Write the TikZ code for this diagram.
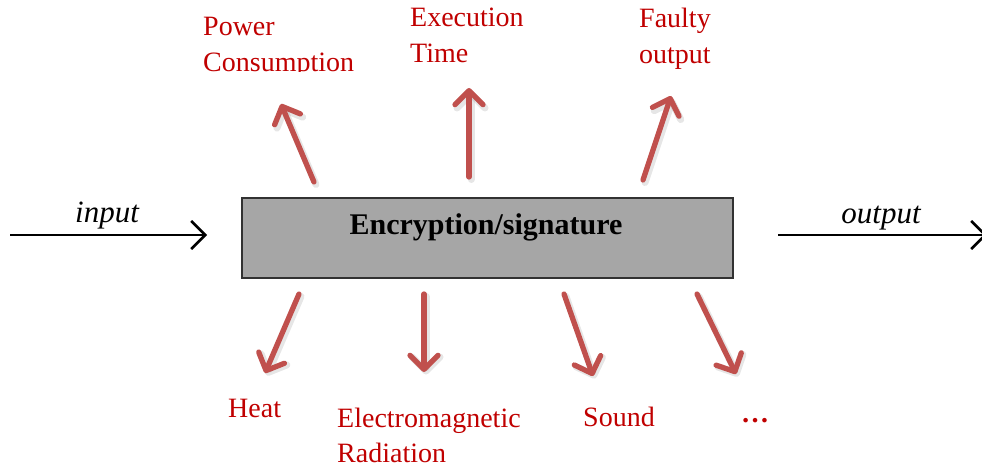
\documentclass[tikz,border=0pt]{standalone}
\usepackage{fontspec}
\setmainfont{Liberation Serif}
\usetikzlibrary{arrows.meta}

\definecolor{leakred}{RGB}{192,80,77}
\definecolor{labelred}{RGB}{192,0,0}
\definecolor{boxgray}{RGB}{166,166,166}
\definecolor{boxedge}{RGB}{50,50,50}

\tikzset{
  leak/.style={draw=leakred, line width=5.3pt, line cap=round,
    -{Straight Barb[length=14pt,width=28pt,round]}},
  leakshadow/.style={draw=black!45, opacity=0.22, line width=7pt, line cap=round,
    -{Straight Barb[length=14pt,width=28pt,round]}},
  flow/.style={draw=black, line width=2.5pt,
    -{Straight Barb[length=14pt,width=28pt]}},
  lbl/.style={anchor=base west, inner sep=0pt, text=labelred,
    font=\fontsize{28}{34}\selectfont},
  iolbl/.style={anchor=base, inner sep=0pt,
    font=\fontsize{31}{36}\selectfont\itshape},
  blockbox/.style={draw=boxedge, fill=boxgray, line width=2pt,
    inner sep=0pt, minimum width=491pt, minimum height=80pt}
}

\begin{document}
\begin{tikzpicture}[x=1pt,y=-1pt]
\useasboundingbox (0,0) rectangle (982,468);

% central block
\node[blockbox] (enc) at (487.5,237.5) {};
\node[anchor=base, inner sep=0pt, font=\fontsize{30}{36}\selectfont\bfseries]
  (enctext) at (486,234) {Encryption/signature};

% input / output
\coordinate (inS) at (10,235);
\coordinate (inE) at (207,235);
\coordinate (outS) at (778,235);
\coordinate (outE) at (987,235);
\draw[flow] (inS) -- (inE);
\draw[flow] (outS) -- (outE);
\node[iolbl] (inlbl) at (107,222) {input};
\node[iolbl] (outlbl) at (881,223) {output};

% leakage labels, top row
\node[lbl] (pc1) at (203,36) {Power};
\begin{scope}
  \clip (190,0) rectangle (400,72);
  \node[lbl] (pc2) at (203,72) {Consumption};
\end{scope}
\node[lbl] (et1) at (410,27) {Execution};
\node[lbl] (et2) at (410,63) {Time};
\node[lbl] (fo1) at (639,28) {Faulty};
\node[lbl] (fo2) at (639,64) {output};

% leakage labels, bottom row
\node[lbl] (heat) at (228,417) {Heat};
\node[lbl] (em1) at (337,427) {Electromagnetic};
\node[lbl] (em2) at (337,462) {Radiation};
\node[lbl] (snd) at (583,426) {Sound};
\node[lbl, font=\fontsize{28}{34}\selectfont\bfseries] (more) at (741,422) {…};

% leakage arrow end points
\coordinate (pcS) at (314,182);  \coordinate (pcE) at (281,104);
\coordinate (etS) at (469,177);  \coordinate (etE) at (469,88);
\coordinate (foS) at (643,180);  \coordinate (foE) at (671,96);
\coordinate (htS) at (299,294);  \coordinate (htE) at (265,373);
\coordinate (emS) at (424,294);  \coordinate (emE) at (424,372);
\coordinate (sdS) at (564,294);  \coordinate (sdE) at (593,376);
\coordinate (mrS) at (697,294);  \coordinate (mrE) at (736,374);

% soft shadows under the leakage arrows
\foreach \a in {pc,et,fo,ht,em,sd,mr}{
  \draw[leakshadow] ([shift={(2,2.5)}]\a S) -- ([shift={(2,2.5)}]\a E);
}
% leakage arrows
\foreach \a in {pc,et,fo,ht,em,sd,mr}{
  \draw[leak] (\a S) -- (\a E);
}
\end{tikzpicture}
\end{document}
